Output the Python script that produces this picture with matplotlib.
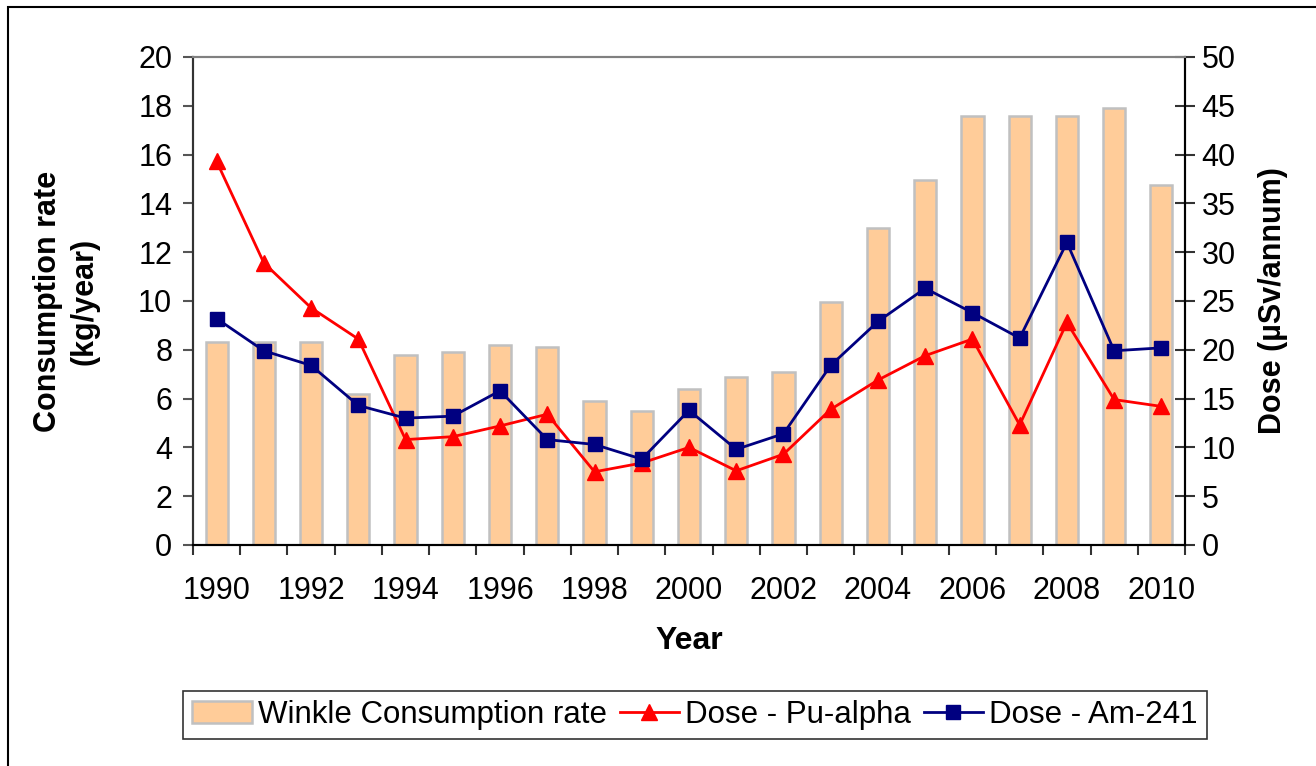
import numpy as np
import matplotlib.pyplot as plt
from matplotlib.patches import Rectangle

plt.rcParams['font.family'] = ['Liberation Sans', 'DejaVu Sans']

years = list(range(1990, 2011))
consumption = [8.3, 8.3, 8.3, 6.2, 7.8, 7.9, 8.2, 8.1, 5.9, 5.5, 6.4,
               6.9, 7.1, 9.95, 13.0, 14.95, 17.6, 17.6, 17.6, 17.9, 14.75]
dose_pu = [39.3, 28.9, 24.3, 21.1, 10.8, 11.1, 12.2, 13.4, 7.5, 8.4, 10.0,
           7.6, 9.3, 13.9, 16.9, 19.4, 21.1, 12.3, 22.8, 14.9, 14.2]
dose_am = [23.2, 19.9, 18.4, 14.3, 13.0, 13.2, 15.8, 10.8, 10.3, 8.8, 13.8,
           9.8, 11.4, 18.4, 22.9, 26.3, 23.8, 21.2, 31.0, 19.9, 20.2]

x = np.arange(len(years))

fig = plt.figure(figsize=(13.16, 7.66), dpi=100)
ax = fig.add_axes([193/1316, 1-545/766, (1185-193)/1316, (545-57)/766])
ax2 = ax.twinx()

# outer chart frame
fig.patches.append(Rectangle((8/1316, -0.05), 1.1, 1-7/766+0.05, transform=fig.transFigure,
                             fill=False, edgecolor='black', linewidth=1.5))

bars = ax.bar(x, consumption, width=0.47, color='#FFCC99', edgecolor='#C0C0C0',
              linewidth=1.8, label='Winkle Consumption rate', zorder=2)
l1, = ax2.plot(x, dose_pu, color='#FF0000', marker='^', markersize=12, linewidth=2,
               label='Dose - Pu-alpha')
l2, = ax2.plot(x, dose_am, color='#000080', marker='s', markersize=10, linewidth=2,
               label='Dose - Am-241')

ax.set_xlim(-0.5, len(years) - 0.5)
ax.set_ylim(0, 20)
ax2.set_ylim(0, 50)
ax.set_yticks(np.arange(0, 21, 2))
ax2.set_yticks(np.arange(0, 51, 5))

ax.set_xticks(x[::2])
ax.set_xticklabels([str(y) for y in years[::2]])
ax.set_xticks(np.arange(-0.5, len(years)), minor=True)
ax.tick_params(axis='x', which='major', length=0, pad=22, labelsize=22)
ax.tick_params(axis='x', which='minor', length=7, width=1.5, color='#333333')
ax.tick_params(axis='y', length=7, width=1.5, color='#555555', labelsize=22, pad=8)
ax2.tick_params(axis='y', direction='inout', length=14, width=1.5, color='#333333',
                labelsize=22, pad=5)

for a in (ax, ax2):
    a.spines['top'].set_color('#808080')
    a.spines['top'].set_linewidth(1.5)
    a.spines['left'].set_color('#333333')
    a.spines['left'].set_linewidth(1.5)
    a.spines['right'].set_color('black')
    a.spines['right'].set_linewidth(1.5)
    a.spines['bottom'].set_color('black')
    a.spines['bottom'].set_linewidth(1.5)

ax.set_xlabel('Year', fontsize=23, fontweight='bold', labelpad=15)
ax.set_ylabel('Consumption rate\n(kg/year)', fontsize=22, fontweight='bold', labelpad=28,
              linespacing=1.25)
ax2.set_ylabel('Dose (µSv/annum)', fontsize=22, fontweight='bold', labelpad=16)

leg = fig.legend([bars, l1, l2],
                 ['Winkle Consumption rate', 'Dose - Pu-alpha', 'Dose - Am-241'],
                 loc='center', bbox_to_anchor=(695/1316, 1-715/766), ncol=3,
                 fontsize=22.5, frameon=True, fancybox=False, edgecolor='black',
                 handlelength=1.9, handletextpad=0.2, columnspacing=0.4,
                 borderpad=0.3, borderaxespad=0)
leg.get_frame().set_linewidth(1.2)

fig.savefig('out.png', dpi=100)
